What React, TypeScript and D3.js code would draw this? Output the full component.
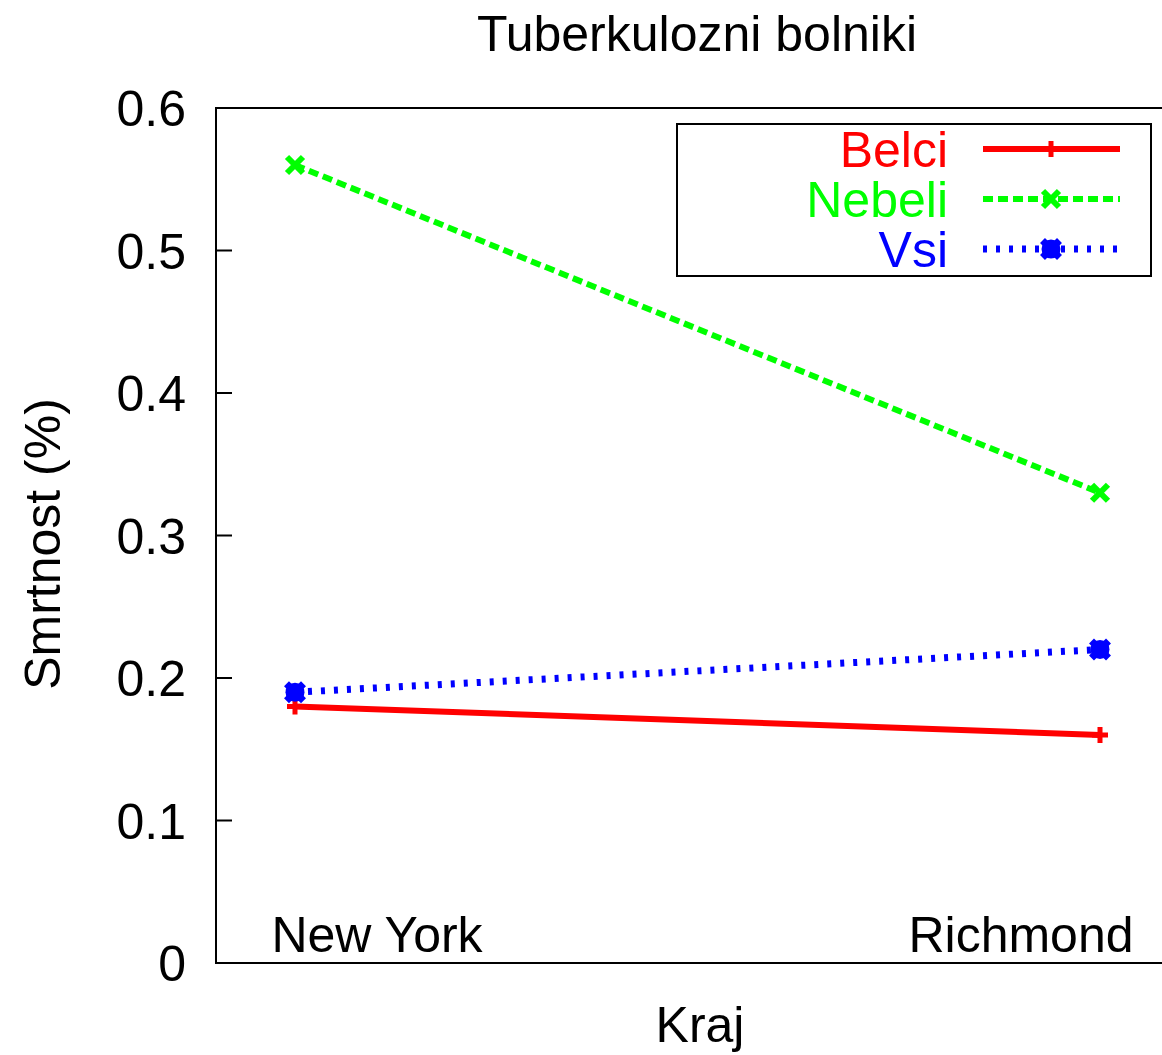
import React, { useRef, useEffect } from "react";
import * as d3 from "d3";

const categories = ["New York", "Richmond"];
const seriesNames = ["Belci", "Nebeli", "Vsi"];
const belci = [0.18, 0.16];
const nebeli = [0.56, 0.33];
const vsi = [0.19, 0.22];
const yTicks = [0, 0.1, 0.2, 0.3, 0.4, 0.5, 0.6];

const W = 1162;
const H = 1055;
const FONT = "'Liberation Sans', Arial, sans-serif";
const FS = "50px";

const App: React.FC = () => {
    const svgRef = useRef<SVGSVGElement | null>(null);

    useEffect(() => {
        if (!svgRef.current) return;
        const svg = d3.select(svgRef.current);
        svg.selectAll("*").remove();

        const left = 216, top = 108, bottom = 963, right = 1175;

        const y = d3.scaleLinear().domain([0, 0.6]).range([bottom, top]);
        const x = d3.scalePoint<string>().domain(categories).range([295, 1100]);

        const styles = [
            { color: "#ff0000", dash: null as string | null, marker: "plus", width: 6 },
            { color: "#00ff00", dash: "10,5", marker: "cross", width: 6 },
            { color: "#0000ff", dash: "4,9", marker: "blob", width: 7 },
        ];
        const allData = [belci, nebeli, vsi];

        // frame
        svg.append("path")
            .attr("d", `M${right},${top}H${left}V${bottom}H${right}`)
            .attr("fill", "none")
            .attr("stroke", "#000")
            .attr("stroke-width", 2);

        // y ticks
        const gy = svg.append("g");
        yTicks.forEach((t) => {
            gy.append("line")
                .attr("x1", left).attr("x2", left + 16)
                .attr("y1", y(t)).attr("y2", y(t))
                .attr("stroke", "#000").attr("stroke-width", 2);
            gy.append("text")
                .attr("x", 186).attr("y", y(t))
                .attr("dy", "0.36em")
                .attr("text-anchor", "end")
                .style("font-family", FONT).style("font-size", FS)
                .text(d3.format("")(t));
        });

        // category labels
        const catOffsets = [82, -79];
        categories.forEach((c, i) => {
            svg.append("text")
                .attr("x", (x(c) as number) + catOffsets[i])
                .attr("y", 952)
                .attr("text-anchor", "middle")
                .style("font-family", FONT).style("font-size", FS)
                .text(c);
        });

        // titles
        svg.append("text")
            .attr("x", 697).attr("y", 51)
            .attr("text-anchor", "middle")
            .style("font-family", FONT).style("font-size", FS)
            .text("Tuberkulozni bolniki");
        svg.append("text")
            .attr("x", 700).attr("y", 1042)
            .attr("text-anchor", "middle")
            .style("font-family", FONT).style("font-size", FS)
            .text("Kraj");
        svg.append("text")
            .attr("transform", `translate(60,544) rotate(-90)`)
            .attr("text-anchor", "middle")
            .style("font-family", FONT).style("font-size", FS)
            .text("Smrtnost (%)");

        const drawMarker = (g: any, kind: string, cx: number, cy: number, color: string) => {
            if (kind === "plus") {
                g.append("path")
                    .attr("d", `M${cx - 8},${cy}H${cx + 8}M${cx},${cy - 8}V${cy + 8}`)
                    .attr("stroke", color).attr("stroke-width", 5);
            } else if (kind === "cross") {
                g.append("path")
                    .attr("d", `M${cx - 8},${cy - 8}L${cx + 8},${cy + 8}M${cx - 8},${cy + 8}L${cx + 8},${cy - 8}`)
                    .attr("stroke", color).attr("stroke-width", 6);
            } else {
                g.append("circle")
                    .attr("cx", cx).attr("cy", cy).attr("r", 9.5)
                    .attr("fill", color);
                g.append("path")
                    .attr("d", `M${cx - 8.5},${cy - 8.5}L${cx + 8.5},${cy + 8.5}M${cx - 8.5},${cy + 8.5}L${cx + 8.5},${cy - 8.5}`)
                    .attr("stroke", color).attr("stroke-width", 7);
            }
        };

        const line = d3.line<number>()
            .x((_, i) => x(categories[i]) as number)
            .y((d) => y(d));

        allData.forEach((data, si) => {
            const st = styles[si];
            const g = svg.append("g");
            g.append("path")
                .datum(data)
                .attr("d", line)
                .attr("fill", "none")
                .attr("stroke", st.color)
                .attr("stroke-width", st.width)
                .attr("stroke-dasharray", st.dash);
            data.forEach((d, i) => drawMarker(g, st.marker, x(categories[i]) as number, y(d), st.color));
        });

        // legend
        const lg = svg.append("g");
        lg.append("rect")
            .attr("x", 677).attr("y", 124)
            .attr("width", 474).attr("height", 152)
            .attr("fill", "#fff").attr("stroke", "#000").attr("stroke-width", 2);
        seriesNames.forEach((name, si) => {
            const st = styles[si];
            const ly = 149 + si * 50;
            lg.append("text")
                .attr("x", 948).attr("y", ly)
                .attr("dy", "0.36em")
                .attr("text-anchor", "end")
                .attr("fill", st.color)
                .style("font-family", FONT).style("font-size", FS)
                .text(name);
            lg.append("line")
                .attr("x1", 983).attr("x2", 1120)
                .attr("y1", ly).attr("y2", ly)
                .attr("stroke", st.color).attr("stroke-width", st.width)
                .attr("stroke-dasharray", st.dash);
            drawMarker(lg, st.marker, 1051, ly, st.color);
        });
    }, []);

    return (
        <svg
            ref={svgRef}
            width={W}
            height={H}
            style={{ display: "block", position: "absolute", left: 0, top: 0, background: "#fff" }}
        />
    );
};

export default App;
